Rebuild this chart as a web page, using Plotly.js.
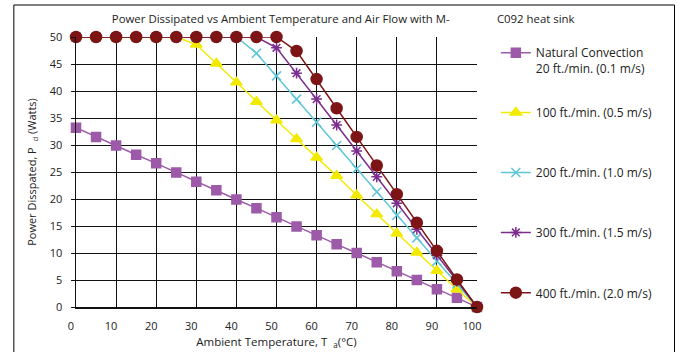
<!DOCTYPE html>
<html>
<head>
<meta charset="utf-8">
<script src="https://cdn.plot.ly/plotly-3.0.1.min.js"></script>
<style>
  html, body { margin: 0; padding: 0; background: #fff; }
  #chart { width: 681px; height: 352px; }
</style>
</head>
<body>
<div id="chart"></div>
<script>
// Ambient temperature steps (°C)
const tempC = [0, 5, 10, 15, 20, 25, 30, 35, 40, 45, 50, 55, 60, 65, 70, 75, 80, 85, 90, 95, 100];

// Power dissipated (W) for each air flow rate
const naturalConv = [33.2, 31.5, 29.9, 28.2, 26.6, 24.9, 23.2, 21.6, 19.9, 18.3, 16.6, 14.9, 13.3, 11.6, 10.0, 8.3, 6.6, 5.0, 3.3, 1.7, 0];
const flow100 = [50, 50, 50, 50, 50, 50, 48.6, 45.1, 41.6, 38.0, 34.6, 31.1, 27.7, 24.3, 20.7, 17.2, 13.6, 10.1, 6.7, 3.3, 0];
const flow200 = [50, 50, 50, 50, 50, 50, 50, 50, 50, 47.0, 42.8, 38.5, 34.2, 29.9, 25.6, 21.3, 17.0, 12.8, 8.5, 4.3, 0];
const flow300 = [50, 50, 50, 50, 50, 50, 50, 50, 50, 50, 48.0, 43.3, 38.5, 33.7, 28.9, 24.1, 19.2, 14.4, 9.6, 4.8, 0];
const flow400 = [50, 50, 50, 50, 50, 50, 50, 50, 50, 50, 50, 47.4, 42.2, 36.8, 31.5, 26.2, 20.9, 15.6, 10.4, 5.1, 0];

const seriesNames = [
  'Natural Convection<br>20 ft./min. (0.1 m/s)',
  '100 ft./min. (0.5 m/s)',
  '200 ft./min. (1.0 m/s)',
  '300 ft./min. (1.5 m/s)',
  '400 ft./min. (2.0 m/s)'
];

const xTicks = [0, 10, 20, 30, 40, 50, 60, 70, 80, 90, 100];
const yTicks = [0, 5, 10, 15, 20, 25, 30, 35, 40, 45, 50];

const FONT = 'Open Sans, Noto Sans, sans-serif';

const styles = [
  { color: '#9c5aa8', symbol: 'square', size: 9, lineWidth: 1.5 },
  { color: '#f2ea00', symbol: 'triangle-up', size: 10, lineWidth: 1.5 },
  { color: '#5ec6d6', symbol: 'x-thin-open', size: 9, lineWidth: 1.5 },
  { color: '#7b2d8d', symbol: 'asterisk-open', size: 9, lineWidth: 1.5 },
  { color: '#7d1416', symbol: 'circle', size: 11, lineWidth: 1.5 }
];
const values = [naturalConv, flow100, flow200, flow300, flow400];

const traces = values.map((v, i) => ({
  x: tempC,
  y: v,
  name: seriesNames[i],
  type: 'scatter',
  mode: 'lines+markers',
  cliponaxis: false,
  legend: i === 0 ? 'legend' : 'legend' + (i + 1),
  line: { color: styles[i].color, width: styles[i].lineWidth },
  marker: {
    color: styles[i].color,
    symbol: styles[i].symbol,
    size: styles[i].size,
    line: { color: styles[i].color, width: 1.5 }
  }
}));

// one legend per series so each entry sits at its own height
const legendTops = [0.995, 0.773, 0.551, 0.329, 0.106];
const legendBase = {
  x: 1.047, xanchor: 'left', yanchor: 'top', valign: 'top',
  bgcolor: 'rgba(0,0,0,0)', borderwidth: 0,
  font: { family: FONT, size: 12, color: '#222' }
};

const gap = '&nbsp;'.repeat(16);

const layout = {
  width: 681,
  height: 352,
  autosize: false,
  margin: { l: 76, r: 204, t: 37, b: 45, autoexpand: false },
  paper_bgcolor: '#fff',
  plot_bgcolor: '#fff',
  font: { family: FONT, color: '#222' },
  title: {
    text: 'Power Dissipated vs Ambient Temperature and Air Flow with M-' + gap + 'C092 heat sink',
    font: { family: FONT, size: 11.4, color: '#222' },
    xref: 'container', yref: 'container',
    x: 0.504, xanchor: 'center',
    y: 0.947, yanchor: 'middle'
  },
  xaxis: {
    range: [0, 100],
    tickvals: xTicks,
    ticktext: xTicks.map(String),
    showgrid: true, gridcolor: '#111', gridwidth: 1,
    showline: true, linecolor: '#111', linewidth: 1.5,
    zeroline: false,
    ticks: '',
    ticklabelshift: -5,
    ticklabelstandoff: 8,
    tickfont: { family: FONT, size: 11, color: '#222' },
    title: { text: 'Ambient Temperature, T&nbsp;&nbsp;<sub>a</sub>(°C)', font: { family: FONT, size: 11.5, color: '#222' }, standoff: 6 }
  },
  yaxis: {
    range: [0, 50],
    tickvals: yTicks,
    ticktext: yTicks.map(String),
    showgrid: true, gridcolor: '#111', gridwidth: 1,
    showline: true, linecolor: '#111', linewidth: 1.5,
    zeroline: false,
    ticks: 'outside', ticklen: 4, tickcolor: '#111',
    ticklabelstandoff: 6,
    tickfont: { family: FONT, size: 11, color: '#222' },
    title: { text: 'Power Disspated, P&nbsp;&nbsp;<sub>d</sub> (Watts)', font: { family: FONT, size: 11, color: '#222' }, standoff: 11 }
  },
  shapes: [
    // outer chart frame
    { type: 'rect', xref: 'paper', yref: 'paper', x0: -0.155, x1: 1.4925, y0: -0.25, y1: 1.1185,
      line: { color: '#000', width: 1 }, fillcolor: 'rgba(0,0,0,0)', layer: 'below' }
  ],
  showlegend: true
};
legendTops.forEach((top, i) => {
  layout[i === 0 ? 'legend' : 'legend' + (i + 1)] = Object.assign({}, legendBase, { y: top });
});

Plotly.newPlot('chart', traces, layout, { displayModeBar: false, staticPlot: true });
</script>
</body>
</html>
